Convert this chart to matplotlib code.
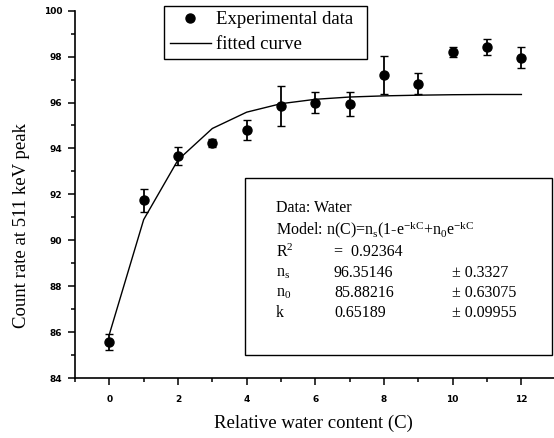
import matplotlib
matplotlib.use("Agg")
import matplotlib.pyplot as plt
from matplotlib.lines import Line2D
from matplotlib.patches import Rectangle
from matplotlib.ticker import MultipleLocator

plt.rcParams['font.family'] = ['Liberation Serif', 'DejaVu Serif']
plt.rcParams['mathtext.fontset'] = 'custom'
plt.rcParams['mathtext.rm'] = 'Liberation Serif'
plt.rcParams['mathtext.it'] = 'Liberation Serif'

# measured points
water = [0, 1, 2, 3, 4, 5, 6, 7, 8, 9, 10, 11, 12]
count = [85.57, 91.75, 93.68, 94.25, 94.8, 95.85, 96.0, 95.95, 97.2, 96.82, 98.2, 98.42, 97.95]
err = [0.35, 0.5, 0.4, 0.18, 0.45, 0.88, 0.45, 0.52, 0.82, 0.45, 0.2, 0.35, 0.45]

# fitted curve
fit_c = [0, 1, 2, 3, 4, 5, 6, 7, 8, 9, 10, 11, 12]
fit_n = [85.9, 90.9, 93.5, 94.87, 95.58, 95.95, 96.14, 96.24, 96.29, 96.32, 96.34, 96.35, 96.35]

W, H = 554, 438
fig = plt.figure(figsize=(W / 100, H / 100), dpi=100)
ax = fig.add_axes([75 / W, 60 / H, (W - 75) / W, (378 - 10.7) / H])

ax.plot(fit_c, fit_n, color='k', lw=1.0)
ax.errorbar(water, count, yerr=err, fmt='o', color='k', ms=6.5,
            elinewidth=1.3, capsize=3, capthick=1.0, zorder=3)

ax.set_xlim(-1, 12.95)
ax.set_ylim(84, 100)
ax.xaxis.set_major_locator(MultipleLocator(2))
ax.xaxis.set_minor_locator(MultipleLocator(1))
ax.yaxis.set_major_locator(MultipleLocator(2))
ax.yaxis.set_minor_locator(MultipleLocator(1))
ax.spines['top'].set_visible(False)
ax.spines['right'].set_visible(False)
for s in ('left', 'bottom'):
    ax.spines[s].set_linewidth(1.2)
ax.tick_params(which='major', direction='out', length=5, width=1.1)
ax.tick_params(which='minor', direction='out', length=3, width=1.1)
ax.tick_params(axis='x', which='major', pad=7)
ax.tick_params(axis='y', which='major', pad=4)
for lab in ax.get_xticklabels() + ax.get_yticklabels():
    lab.set_fontfamily('DejaVu Sans')
    lab.set_fontweight('bold')
    lab.set_fontsize(6.5)

ax.set_xlabel('Relative water content (C)', fontsize=13.5)
ax.xaxis.set_label_coords(0.497, -0.1)
ax.set_ylabel('Count rate at 511 keV peak', fontsize=13.5)
ax.yaxis.set_label_coords(-0.094, 0.415)

handles = [Line2D([], [], marker='o', color='k', ls='none', ms=6.5),
           Line2D([], [], color='k', lw=1.0)]
leg = fig.legend(handles, ['Experimental data', 'fitted curve'],
                 loc='upper left',
                 bbox_to_anchor=(164 / W, 1 - 57.3 / H, 203 / W, 51.6 / H),
                 mode='expand',
                 fontsize=13.5, frameon=True, fancybox=False, edgecolor='k',
                 framealpha=1, borderpad=0.3, handlelength=2.2,
                 handletextpad=0.3, labelspacing=0.4, borderaxespad=0)
leg.get_frame().set_linewidth(1.0)

# fit results box
fig.patches.append(Rectangle((245 / W, 1 - 355 / H), (552 - 245) / W, (355 - 178) / H,
                             transform=fig.transFigure, fill=False, ec='k', lw=1.0))
rows = [
    ('Data: Water', '', ''),
    (r'Model: n(C)=n$_\mathrm{s}$(1-e$^{-kC}$+n$_\mathrm{0}$e$^{-kC}$', '', ''),
    (r'R$^2$', '=  0.92364', ''),
    (r'n$_\mathrm{s}$', '96.35146', '± 0.3327'),
    (r'n$_\mathrm{0}$', '85.88216', '± 0.63075'),
    ('k', '0.65189', '± 0.09955'),
]
ys = [208, 230, 252, 273, 293, 313]
for (a, b, c), y in zip(rows, ys):
    fig.text(276 / W, 1 - y / H, a, fontsize=11.5, va='center')
    if b:
        fig.text(334 / W, 1 - y / H, b, fontsize=11.5, va='center')
    if c:
        fig.text(452 / W, 1 - y / H, c, fontsize=11.5, va='center')

fig.savefig('out.png', dpi=100)
